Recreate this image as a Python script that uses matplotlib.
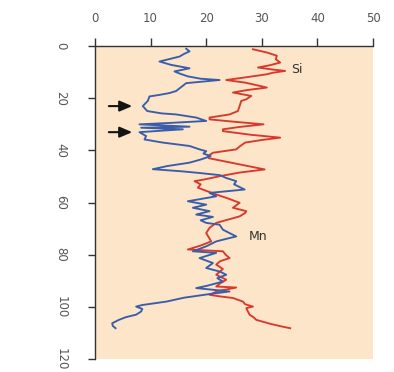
import matplotlib
matplotlib.use("Agg")
import matplotlib.pyplot as plt

# Mn (blue) profile: depth and value
mn_depth = [1.0, 2.0, 3.0, 4.0, 5.9, 7.2, 8.5, 9.7, 10.5, 11.6, 12.5, 13.0, 14.2, 15.2, 16.2,
            17.2, 18.0, 18.7, 19.3, 21.0, 23.0, 24.9, 25.8, 26.2, 27.4, 28.7, 29.4, 30.0, 30.9,
            31.3, 31.9, 33.0, 34.5, 35.8, 37.0, 38.3, 39.6, 40.3, 41.2, 42.2, 43.5, 44.7, 46.0,
            47.2, 48.0, 48.6, 49.5, 50.5, 51.8, 53.0, 55.0, 56.3, 57.6, 59.5, 60.8, 62.0, 63.3,
            64.6, 65.5, 66.8, 67.8, 68.5, 70.4, 71.5, 73.0, 73.6, 74.9, 76.8, 78.7, 79.3, 81.3,
            83.2, 85.1, 86.5, 87.7, 89.0, 90.3, 92.0, 92.8, 94.1, 95.1, 96.5, 98.0, 99.3, 99.9,
            100.8, 101.8, 103.0, 104.0, 105.0, 106.3, 107.3, 108.2]
mn_value = [16.4, 17.0, 16.0, 15.2, 11.6, 13.7, 17.0, 14.3, 15.2, 16.7, 19.0, 22.4, 16.4, 15.8, 15.2,
            14.6, 13.4, 11.6, 9.8, 9.5, 8.6, 9.4, 12.0, 14.6, 18.2, 20.0, 14.0, 8.0, 17.0,
            8.3, 15.8, 8.0, 9.2, 8.9, 12.2, 17.0, 18.8, 20.0, 19.5, 20.8, 19.0, 17.0, 13.0,
            10.4, 15.5, 18.5, 22.5, 23.5, 25.4, 25.0, 26.9, 20.6, 21.8, 16.7, 20.0, 17.6, 20.6,
            18.2, 21.2, 19.0, 20.0, 22.4, 23.0, 24.0, 25.4, 24.2, 21.8, 20.0, 17.6, 21.8, 18.8,
            21.2, 20.0, 22.5, 23.6, 22.0, 23.0, 20.0, 18.2, 24.2, 20.6, 16.0, 12.8, 8.5, 7.4,
            8.5, 8.3, 7.4, 5.5, 4.3, 3.1, 3.2, 3.7]

# Si (red) profile: depth and value
si_depth = [1.2, 2.5, 3.7, 5.0, 6.3, 7.3, 8.2, 9.0, 9.5, 10.2, 10.8, 12.0, 13.0, 14.0, 15.2,
            15.9, 16.8, 17.8, 19.1, 20.4, 21.0, 23.0, 24.9, 26.2, 27.4, 28.1, 29.0, 30.0, 31.0,
            31.9, 32.6, 34.0, 35.1, 36.0, 37.0, 38.5, 39.6, 40.9, 42.2, 43.0, 44.5, 46.0, 47.3,
            48.5, 49.9, 51.0, 51.8, 53.0, 54.3, 55.5, 56.9, 58.5, 60.1, 62.0, 63.3, 64.0, 65.3,
            66.5, 67.8, 69.7, 71.7, 73.5, 74.9, 76.5, 78.0, 78.7, 80.0, 81.3, 82.5, 83.8, 85.5,
            87.7, 89.6, 91.0, 92.2, 92.6, 94.0, 95.4, 96.0, 96.6, 98.0, 99.0, 99.9, 100.5, 101.8,
            103.0, 104.0, 105.0, 106.5, 107.5, 108.2]
si_value = [28.4, 31.0, 32.7, 32.5, 33.3, 31.5, 29.3, 32.0, 34.2, 32.0, 30.9, 27.0, 23.6, 27.0, 29.5,
            30.9, 27.5, 24.8, 28.1, 27.2, 26.3, 26.0, 25.7, 24.2, 20.6, 20.6, 25.0, 30.3, 26.0,
            23.0, 23.0, 28.0, 33.3, 30.0, 27.0, 26.0, 25.4, 21.2, 20.3, 20.5, 24.0, 27.5, 30.5,
            26.0, 22.4, 20.0, 17.9, 19.0, 18.5, 20.0, 21.8, 24.0, 26.0, 24.8, 27.2, 27.0, 26.0,
            24.0, 21.8, 20.6, 20.0, 20.5, 20.9, 19.0, 16.7, 23.0, 23.5, 24.2, 22.5, 21.8, 23.0,
            21.8, 23.6, 22.5, 21.8, 25.4, 22.0, 20.6, 22.5, 24.8, 26.6, 27.0, 28.4, 27.2, 27.5,
            27.8, 28.5, 29.0, 31.5, 33.5, 35.1]

x_ticks = [0, 10, 20, 30, 40, 50]
y_ticks = [0, 20, 40, 60, 80, 100, 120]
arrow_depths = [23, 33]

fig = plt.figure(figsize=(3.94, 3.72), dpi=100)
ax = fig.add_axes([0.241, 0.035, 0.706, 0.841])
ax.set_facecolor("#FCE5C8")

ax.plot(si_value, si_depth, color="#D8392C", lw=1.35, zorder=3)
ax.plot(mn_value, mn_depth, color="#3A5DAA", lw=1.35, zorder=4)

ax.set_xlim(0, 50)
ax.set_ylim(120, 0)
ax.xaxis.tick_top()
ax.set_xticks(x_ticks)
ax.set_yticks(y_ticks)
ax.tick_params(axis="x", direction="out", length=6, width=1, color="#333333",
               labelsize=8.5, labelcolor="#555555", pad=9)
ax.tick_params(axis="y", direction="out", length=5, width=1, color="#333333",
               labelsize=8.5, labelcolor="#555555", pad=15)
for lab in ax.get_yticklabels():
    lab.set_rotation(-90)
    lab.set_va("center")
for s in ["right", "bottom"]:
    ax.spines[s].set_visible(False)
for s in ["left", "top"]:
    ax.spines[s].set_color("#333333")
    ax.spines[s].set_linewidth(1)

for d in arrow_depths:
    ax.annotate("", xy=(7.2, d), xytext=(2.0, d),
                arrowprops=dict(arrowstyle="-|>,head_length=0.75,head_width=0.32",
                                color="#141414", lw=1.5), zorder=5)

ax.text(35.2, 9.0, "Si", fontsize=9, color="#333333", va="center", ha="left")
ax.text(27.6, 73.0, "Mn", fontsize=9, color="#333333", va="center", ha="left")

fig.savefig("out.png", dpi=100)
